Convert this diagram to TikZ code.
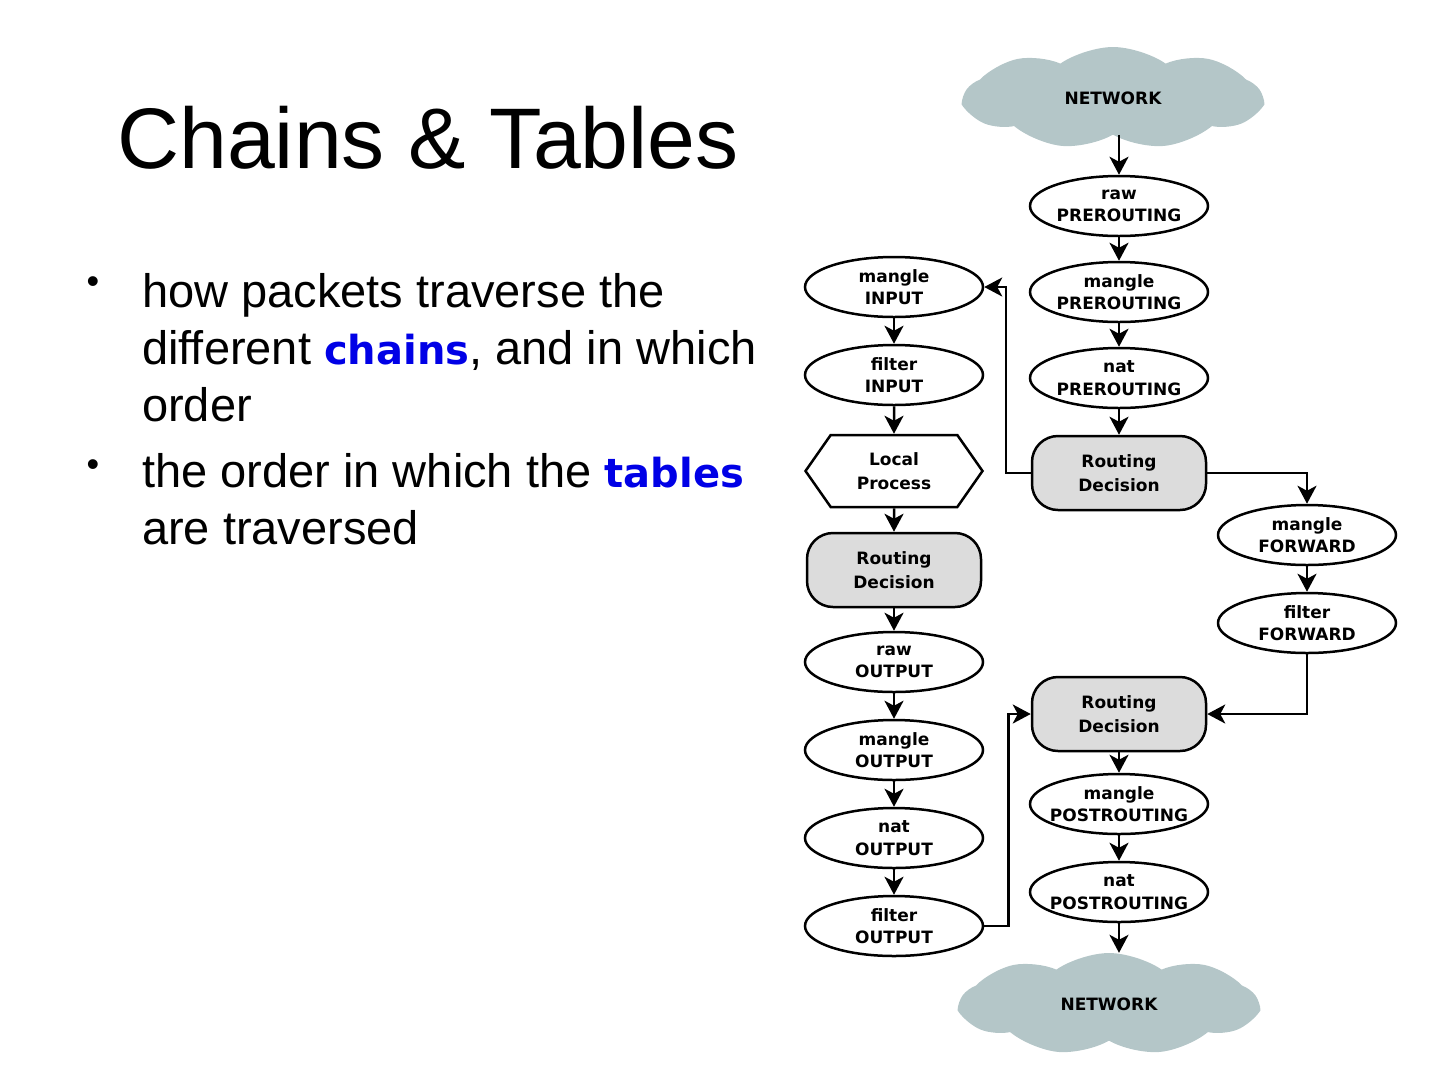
\documentclass[tikz,border=0pt]{standalone}
\usepackage{fontspec}
\setmainfont{Liberation Sans}
\newfontfamily\diagfont{DejaVu Sans}
\usepackage{xcolor}
\usepackage{tikz}
\usetikzlibrary{shapes.geometric, shapes.symbols, arrows.meta, positioning}
\definecolor{cloudgrey}{HTML}{B4C6C8}
\definecolor{routegrey}{HTML}{DCDCDC}
\definecolor{termblue}{HTML}{0000E6}

\begin{document}
\begin{tikzpicture}[
    x=1pt, y=-1pt,
    chainbox/.style={ellipse, draw, line width=2.5pt, fill=white, minimum width=178pt,
                     minimum height=60pt, inner xsep=-10pt, inner ysep=0pt, align=center,
                     font=\diagfont\bfseries\fontsize{17}{22.5}\selectfont},
    routebox/.style={rectangle, draw, line width=2.5pt, fill=routegrey, minimum width=174pt,
                     minimum height=74pt, rounded corners=26pt, align=center,
                     font=\diagfont\bfseries\fontsize{17}{24}\selectfont},
    localbox/.style={signal, signal to=west and east, signal pointer angle=110, draw,
                     line width=2.5pt, fill=white, minimum width=177pt, minimum height=72pt,
                     align=center, font=\diagfont\bfseries\fontsize{17}{24}\selectfont},
    netcloud/.style={cloud, cloud puffs=9, cloud puff arc=70, aspect=2.9, fill=cloudgrey,
                     draw=none, minimum width=297pt, minimum height=102pt,
                     font=\diagfont\bfseries\fontsize{17}{23}\selectfont},
    arrow/.style={-{Stealth[length=18pt, width=19pt, inset=5pt]}, line width=2.5pt},
    bodytext/.style={anchor=north west, align=left, inner sep=0pt,
                     font=\fontsize{47}{57}\selectfont},
    dot/.style={inner sep=0pt, font=\fontsize{36}{36}\selectfont}
]
\useasboundingbox (0,0) rectangle (1440,1080);

% Slide text
\node[anchor=base west, inner sep=0pt, font=\fontsize{86}{90}\selectfont] (title) at (117,168) {Chains \& Tables};
\node[dot] (dota) at (93,285) {•};
\node[bodytext] (itema) at (142,273) {how packets traverse the\\different {\diagfont\bfseries\fontsize{40}{57}\selectfont\color{termblue}chains}, and in which\\order};
\node[dot] (dotb) at (93,468) {•};
\node[bodytext] (itemb) at (142,453) {the order in which the {\diagfont\bfseries\fontsize{40}{57}\selectfont\color{termblue}tables}\\are traversed};

% Incoming path
\node[netcloud] (nettop) at (1113,98) {NETWORK};
\node[chainbox] (rawpre) at (1119,206) {raw\\PREROUTING};
\node[chainbox] (manglepre) at (1119,292) {mangle\\PREROUTING};
\node[chainbox] (natpre) at (1119,378) {nat\\PREROUTING};
\node[routebox] (routein) at (1119,473) {Routing\\Decision};

% Local input and output
\node[chainbox] (mangleinput) at (894,287) {mangle\\INPUT};
\node[chainbox] (filterinput) at (894,375) {filter\\INPUT};
\node[localbox] (localproc) at (894,471) {Local\\Process};
\node[routebox] (routeout) at (894,570) {Routing\\Decision};
\node[chainbox] (rawoutput) at (894,662) {raw\\OUTPUT};
\node[chainbox] (mangleoutput) at (894,750) {mangle\\OUTPUT};
\node[chainbox] (natoutput) at (894,838) {nat\\OUTPUT};
\node[chainbox] (filteroutput) at (894,926) {filter\\OUTPUT};

% Forward path
\node[chainbox] (mangleforward) at (1307,535) {mangle\\FORWARD};
\node[chainbox] (filterforward) at (1307,623) {filter\\FORWARD};

% Outgoing path
\node[routebox] (routepost) at (1119,714) {Routing\\Decision};
\node[chainbox] (manglepost) at (1119,804) {mangle\\POSTROUTING};
\node[chainbox] (natpost) at (1119,892) {nat\\POSTROUTING};
\node[netcloud] (netbottom) at (1109,1004) {NETWORK};

% Arrows
\draw[arrow] (nettop.south -| rawpre.north) -- (rawpre);
\draw[arrow] (rawpre) -- (manglepre);
\draw[arrow] (manglepre) -- (natpre);
\draw[arrow] (natpre) -- (routein);
\draw[arrow] (routein.west) -- ++(-25,0) |- (mangleinput.east);
\draw[arrow] (routein.east) -| (mangleforward.north);
\draw[arrow] (mangleinput) -- (filterinput);
\draw[arrow] (filterinput) -- (localproc);
\draw[arrow] (localproc) -- (routeout);
\draw[arrow] (routeout) -- (rawoutput);
\draw[arrow] (rawoutput) -- (mangleoutput);
\draw[arrow] (mangleoutput) -- (natoutput);
\draw[arrow] (natoutput) -- (filteroutput);
\draw[arrow] (filteroutput.east) -- ++(24,0) |- (routepost.west);
\draw[arrow] (mangleforward) -- (filterforward);
\draw[arrow] (filterforward.south) |- (routepost.east);
\draw[arrow] (routepost) -- (manglepost);
\draw[arrow] (manglepost) -- (natpost);
\draw[arrow] (natpost) -- (natpost.south |- netbottom.north);

\end{tikzpicture}
\end{document}
